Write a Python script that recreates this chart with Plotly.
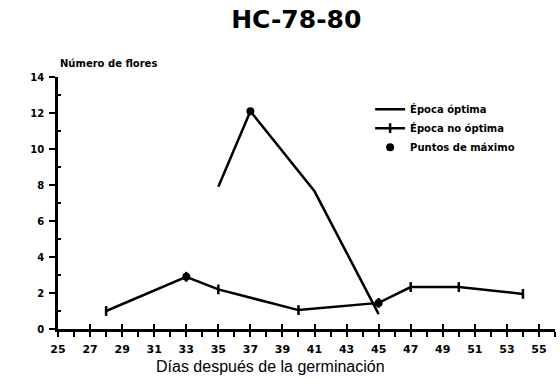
import plotly.graph_objects as go

# ---- data ----
days_optima = [35, 37, 41, 45]
vals_optima = [7.9, 12.1, 7.65, 0.83]

days_no_optima = [28, 33, 35, 40, 45, 47, 50, 54]
vals_no_optima = [1.0, 2.9, 2.2, 1.05, 1.45, 2.33, 2.33, 1.95]

days_maximo = [33, 37, 45]
vals_maximo = [2.9, 12.1, 1.45]

x_tick_vals = [25, 27, 29, 31, 33, 35, 37, 39, 41, 43, 45, 47, 49, 51, 53, 55]
x_tick_text = ["25", "27", "29", "31", "33", "35", "37", "39", "41", "43",
               "45", "47", "49", "51", "53", "55"]
y_tick_vals = [0, 2, 4, 6, 8, 10, 12, 14]
y_tick_text = ["0", "2", "4", "6", "8", "10", "12", "14"]

BOLD = "DejaVu Sans"
fig = go.Figure()

fig.add_trace(go.Scatter(
    x=days_optima, y=vals_optima, mode="lines", name="Época óptima",
    line=dict(color="black", width=2.5)))
fig.add_trace(go.Scatter(
    x=days_no_optima, y=vals_no_optima, mode="lines+markers", name="Época no óptima",
    line=dict(color="black", width=2.5),
    marker=dict(symbol="line-ns", size=7, line=dict(color="black", width=2.5))))
fig.add_trace(go.Scatter(
    x=days_maximo, y=vals_maximo, mode="markers", name="Puntos de máximo",
    marker=dict(symbol="circle", size=8, color="black")))

# invisible trace on overlay axis (for crossing ticks)
fig.add_trace(go.Scatter(x=[25, 56], y=[0, 0], xaxis="x2", mode="lines",
                         line=dict(width=0), showlegend=False, hoverinfo="skip"))

fig.update_layout(
    width=560, height=384,
    margin=dict(l=58, r=5, t=77, b=55),
    paper_bgcolor="white", plot_bgcolor="white",
    showlegend=True,
    title=dict(text="HC-78-80", x=0.529, xref="container", xanchor="center",
               y=0.95, yref="container", yanchor="middle",
               font=dict(family=BOLD, size=25, color="black", weight="bold")),
    legend=dict(x=0.628, y=0.93, xanchor="left", yanchor="top",
                bgcolor="rgba(0,0,0,0)",
                font=dict(family=BOLD, size=10, color="black", weight="bold"),
                itemwidth=30),
    xaxis=dict(range=[25, 56], tickmode="array", tickvals=x_tick_vals, ticktext=x_tick_text,
               ticks="outside", ticklen=5, tickwidth=2, tickcolor="black",
               showline=True, linecolor="black", linewidth=2.5,
               showgrid=False, zeroline=False,
               ticklabelstandoff=3,
               tickfont=dict(family=BOLD, size=11, color="black", weight="bold"),
               minor=dict(ticks="outside", ticklen=5, tickwidth=2, tickcolor="black",
                          tickmode="linear", tick0=25, dtick=1, showgrid=False)),
    xaxis2=dict(range=[25, 56], overlaying="x", anchor="y", side="bottom",
                tickmode="array", tickvals=x_tick_vals, ticks="inside", ticklen=5,
                tickwidth=2, tickcolor="black", showticklabels=False,
                showline=False, showgrid=False, zeroline=False),
    yaxis=dict(range=[0, 14], tickmode="array", tickvals=y_tick_vals, ticktext=y_tick_text,
               ticks="outside", ticklen=6, tickwidth=2, tickcolor="black",
               showline=True, linecolor="black", linewidth=2.5,
               showgrid=False, zeroline=False, ticklabelstandoff=3,
               tickfont=dict(family=BOLD, size=10, color="black", weight="bold"),
               minor=dict(ticks="inside", ticklen=3, tickwidth=2, tickcolor="black",
                          tickmode="linear", tick0=1, dtick=2, showgrid=False)),
    annotations=[
        dict(text="Número de flores", xref="paper", yref="paper", x=0, y=1.052,
             xanchor="left", yanchor="middle", showarrow=False,
             font=dict(family=BOLD, size=10, color="black", weight="bold")),
        dict(text="Días después de la germinación", xref="paper", yref="paper",
             x=0.4266, y=-0.148, xanchor="center", yanchor="middle", showarrow=False,
             font=dict(family="Liberation Sans", size=16, color="black")),
    ],
)

fig.write_html("out.html")
